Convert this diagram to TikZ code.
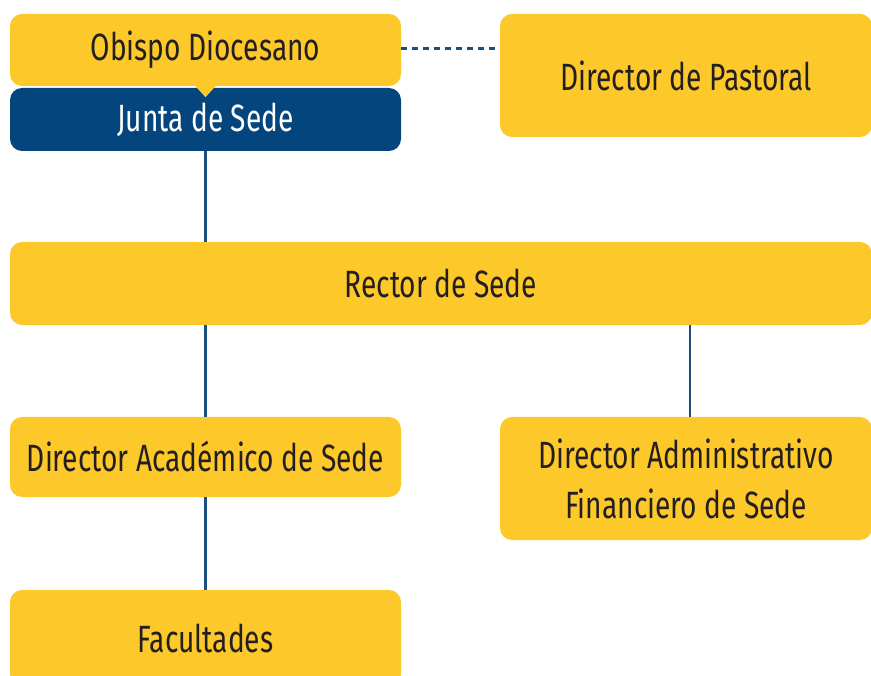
\documentclass[tikz,border=0pt]{standalone}
\usepackage{fontspec}
\setmainfont{Fira Sans}[FakeStretch=0.74]
\usepackage{xcolor}
\usepackage{tikz}
\usetikzlibrary{calc}

\definecolor{amarillo}{HTML}{FDC82A}
\definecolor{azul}{HTML}{03457C}
\definecolor{linea}{HTML}{1B4F80}
\definecolor{texto}{HTML}{231F20}

\begin{document}
\begin{tikzpicture}[x=1pt,y=-1pt,
        caja/.style={fill=amarillo,rounded corners=12pt,inner sep=0pt,align=center,
            text=texto,font=\fontsize{38}{50}\selectfont},
        cajaazul/.style={caja,fill=azul,text=white},
        enlace/.style={draw=linea,line width=2.8pt}]
        \useasboundingbox (0,0) rectangle (871,676);
        \begin{scope}
        \clip (0,0) rectangle (871,676);
        \node[caja,minimum width=391pt,minimum height=72pt] (obispo) at (205.5,50) {Obispo Diocesano};
        \node[cajaazul,minimum width=391pt,minimum height=63pt] (junta) at (205.5,119.5) {Junta de Sede};
        \fill[amarillo] ($(obispo.south)+(-11,-1)$) -- ($(obispo.south)+(11,-1)$) -- ($(obispo.south)+(0,11)$) -- cycle;
        \node[caja,minimum width=372pt,minimum height=123pt] (pastoral) at (686,75.5) {Director de Pastoral};

        \node[caja,minimum width=862pt,minimum height=83pt] (rector) at (441,283.5) {Rector de Sede};

        \node[caja,minimum width=391pt,minimum height=80pt] (academico) at (205.5,457) {Director Académico de Sede};
        \node[caja,minimum width=372pt,minimum height=123pt] (admin) at (686,478.5) {Director Administrativo\\Financiero de Sede};

        \node[caja,minimum width=391pt,minimum height=96pt] (facultades) at (205.5,638) {Facultades};
        \end{scope}

        % conectores
        \draw[enlace,line width=3pt,dash pattern=on 6pt off 5pt] (obispo.east |- 0,49) -- (pastoral.west |- 0,49);
        \draw[enlace] (junta.south) -- (junta.south |- rector.north);
        \draw[enlace] (academico.north) -- (academico.north |- rector.south);
        \draw[enlace] (690,0 |- rector.south) -- (690,0 |- admin.north);
        \draw[enlace] (academico.south) -- (facultades.north);
    \end{tikzpicture}
\end{document}
